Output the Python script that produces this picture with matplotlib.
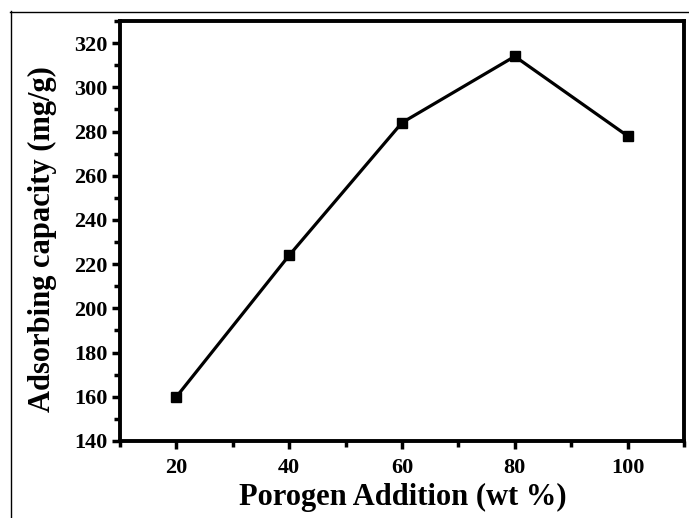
import matplotlib
matplotlib.use("Agg")
import matplotlib.pyplot as plt
from matplotlib.lines import Line2D
from matplotlib.ticker import MultipleLocator

porogen = [20, 40, 60, 80, 100]
capacity = [160, 224, 284, 314, 278]
xticks = [20, 40, 60, 80, 100]
yticks = [140, 160, 180, 200, 220, 240, 260, 280, 300, 320]

W, H = 689, 518
fig = plt.figure(figsize=(W / 100, H / 100), dpi=100)
ax = fig.add_axes([120 / W, 1 - 441 / H, (684 - 120) / W, (441 - 21) / H])

ax.plot(porogen, capacity, color="black", lw=2.3, marker="s", ms=7,
        markerfacecolor="black", markeredgecolor="black")
ax.set_xlim(10, 110)
ax.set_ylim(140, 330)
ax.set_xticks(xticks)
ax.set_yticks(yticks)
ax.xaxis.set_minor_locator(MultipleLocator(10))
ax.yaxis.set_minor_locator(MultipleLocator(10))

for s in ax.spines.values():
    s.set_linewidth(2.8)
ax.tick_params(which="major", direction="out", length=6, width=2.5,
               top=False, right=False)
ax.tick_params(which="minor", direction="out", length=4, width=2.5,
               top=False, right=False)
for lab in ax.get_xticklabels() + ax.get_yticklabels():
    lab.set_fontfamily("Liberation Serif")
    lab.set_fontweight("bold")
    lab.set_fontsize(16)
ax.tick_params(axis="x", pad=6)
ax.tick_params(axis="y", pad=3)

fig.text(403 / W, 1 - 497 / H, "Porogen Addition (wt %)", ha="center", va="center",
         fontfamily="Liberation Serif", fontweight="bold", fontsize=22)
fig.text(42 / W, 1 - 239 / H, "Adsorbing capacity (mg/g)", ha="center", va="center",
         rotation=90, fontfamily="Liberation Serif", fontweight="bold", fontsize=22)

fig.add_artist(Line2D([10.5 / W, 10.5 / W], [0, 1 - 11 / H], transform=fig.transFigure,
                      color="black", lw=1))
fig.add_artist(Line2D([10 / W, 1], [1 - 11.5 / H, 1 - 11.5 / H], transform=fig.transFigure,
                      color="black", lw=1))

fig.savefig("out.png", dpi=100)
